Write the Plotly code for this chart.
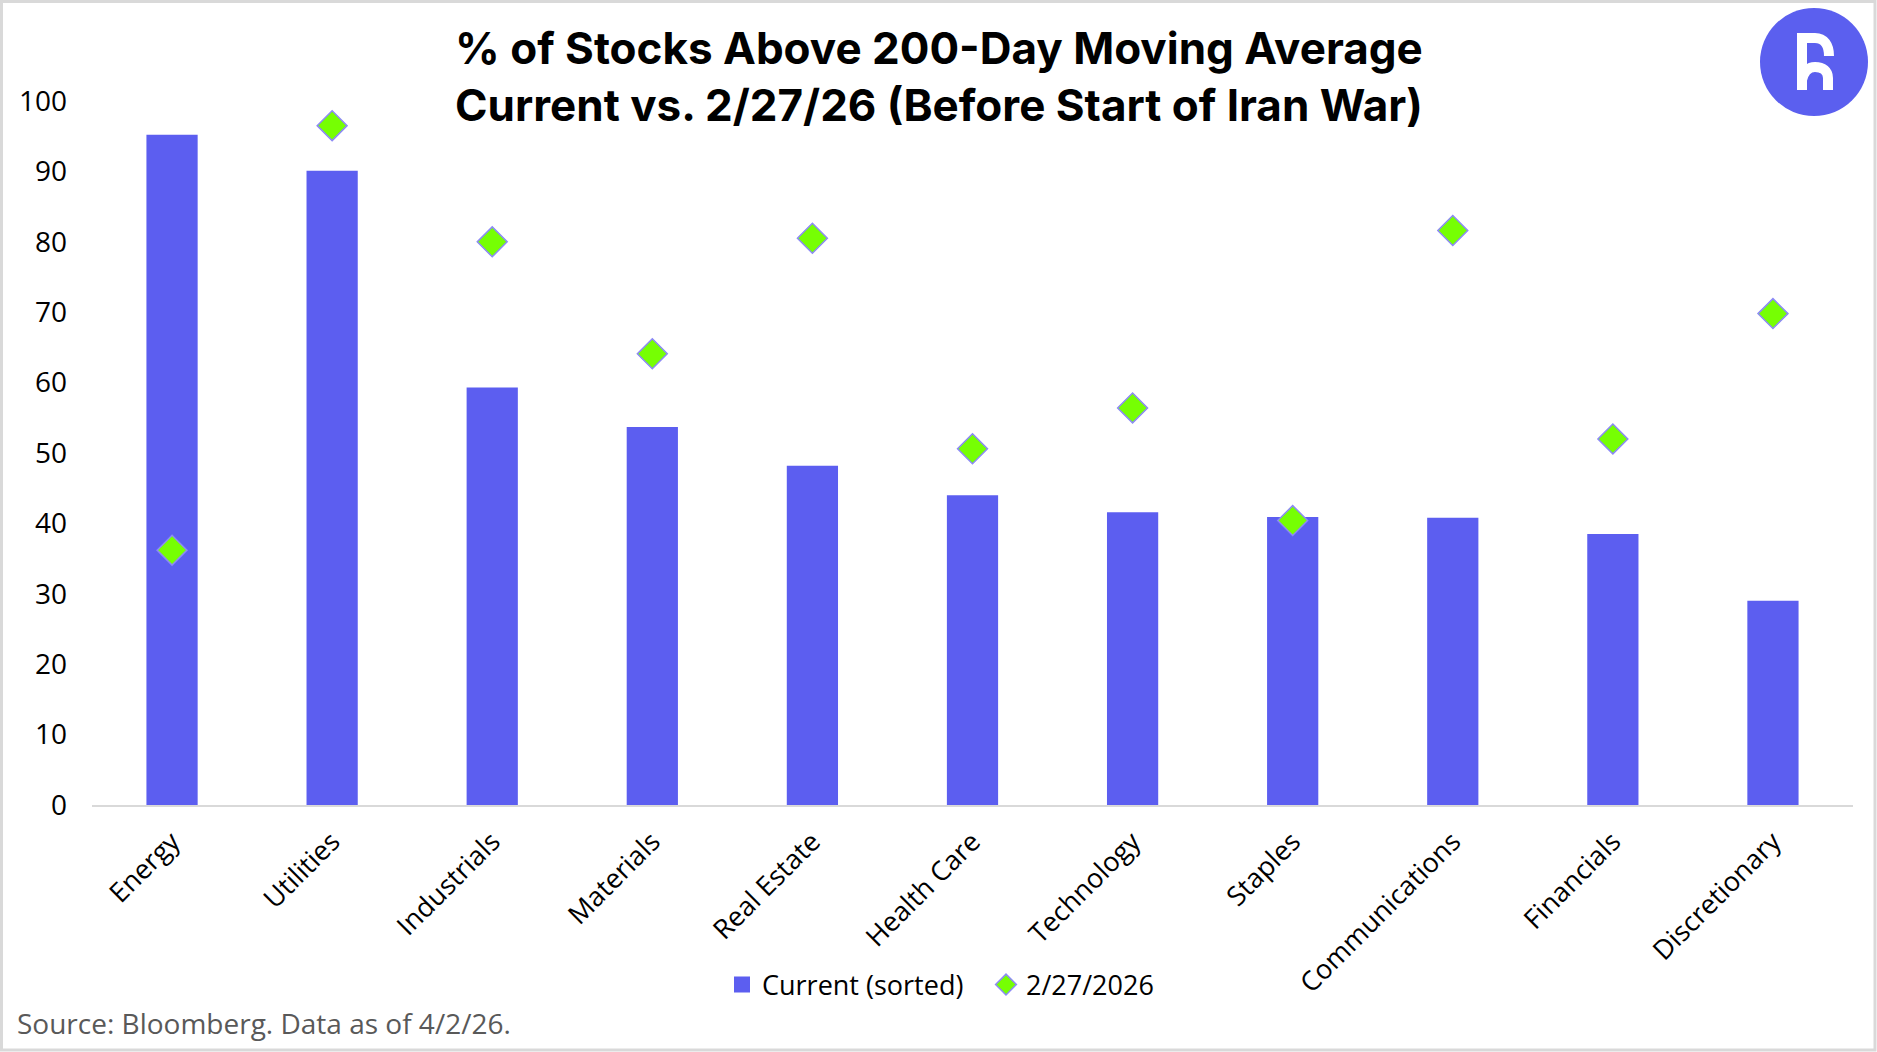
import plotly.graph_objects as go

categories = ["Energy", "Utilities", "Industrials", "Materials", "Real Estate",
              "Health Care", "Technology", "Staples", "Communications",
              "Financials", "Discretionary"]
current_sorted = [95.2, 90.1, 59.3, 53.7, 48.2, 44.0, 41.6, 40.9, 40.8, 38.5, 29.0]
before_war = [36.2, 96.5, 80.0, 64.1, 80.5, 50.6, 56.4, 40.4, 81.6, 52.0, 69.8]
y_ticks = [0, 10, 20, 30, 40, 50, 60, 70, 80, 90, 100]

W, H = 1877, 1052
L, R, T, B = 92, 24, 101, 247
PW = W - L - R
PH = H - T - B


def px(x):
    return (x - L) / PW


def py(y):
    return (H - B - y) / PH


BAR = "#5C5EF0"
LOGO = "#5B5FEF"
TICK_FONT = dict(family="Open Sans", size=27, color="#000000")

fig = go.Figure()
fig.add_trace(go.Bar(
    x=categories, y=current_sorted, name="Current (sorted)",
    marker=dict(color=BAR, line=dict(width=0)), showlegend=False,
))
# legend entry for the bars (larger square symbol)
fig.add_trace(go.Scatter(
    x=[None], y=[None], name="Current (sorted)", mode="markers",
    marker=dict(symbol="square", size=16, color=BAR, line=dict(width=0)),
))
fig.add_trace(go.Scatter(
    x=categories, y=before_war, name="2/27/2026", mode="markers",
    marker=dict(symbol="diamond", size=23, color="#76FF03",
                line=dict(color="#8C8AF5", width=1.5)),
))

shapes = []
# outer frame
shapes.append(dict(type="rect", xref="paper", yref="paper",
                   x0=px(1.5), x1=px(W - 2), y0=py(H - 2), y1=py(1.5),
                   line=dict(color="#D9D9D9", width=3), fillcolor="rgba(0,0,0,0)",
                   layer="above"))
# logo circle
shapes.append(dict(type="circle", xref="paper", yref="paper",
                   x0=px(1760), x1=px(1868), y0=py(116), y1=py(8),
                   fillcolor=LOGO, line=dict(width=0)))


def path(points_cmds):
    out = []
    for cmd, pts in points_cmds:
        s = cmd
        if pts:
            s += " ".join(f"{px(a):.5f},{py(b):.5f}" for a, b in pts)
        out.append(s)
    return " ".join(out)


# stem + top bar
shapes.append(dict(type="rect", xref="paper", yref="paper",
                   x0=px(1797), x1=px(1807), y0=py(90), y1=py(33),
                   fillcolor="#FFFFFF", line=dict(width=0)))
shapes.append(dict(type="rect", xref="paper", yref="paper",
                   x0=px(1797), x1=px(1815), y0=py(43), y1=py(33),
                   fillcolor="#FFFFFF", line=dict(width=0)))
# bowl stroke
bowl = path([
    ("M", [(1812, 38)]), ("L", [(1815, 38)]),
    ("C", [(1824, 38), (1829, 45), (1829, 56)]),
])
shapes.append(dict(type="path", xref="paper", yref="paper", path=bowl,
                   fillcolor="rgba(0,0,0,0)", line=dict(color="#FFFFFF", width=10)))
# h arch stroke
arch = path([
    ("M", [(1802, 80)]),
    ("C", [(1804, 71), (1809, 67), (1815, 67)]),
    ("C", [(1823, 67), (1828, 71), (1828, 78)]),
    ("L", [(1828, 90)]),
])
shapes.append(dict(type="path", xref="paper", yref="paper", path=arch,
                   fillcolor="rgba(0,0,0,0)", line=dict(color="#FFFFFF", width=10)))

fig.update_layout(
    width=W, height=H,
    margin=dict(l=L, r=R, t=T, b=B, autoexpand=False),
    paper_bgcolor="#FFFFFF", plot_bgcolor="#FFFFFF",
    bargap=0.68,
    showlegend=True,
    legend=dict(orientation="h", x=px(722), xanchor="left",
                y=py(985), yanchor="middle",
                font=dict(family="Open Sans", size=27, color="#000000"),
                itemwidth=30, entrywidth=219, entrywidthmode="pixels",
                bgcolor="rgba(0,0,0,0)"),
    shapes=shapes,
    hovermode=False,
    annotations=[
        dict(text="<b>% of Stocks Above 200-Day Moving Average<br>Current vs. 2/27/26 (Before Start of Iran War)</b>",
             xref="paper", yref="paper", x=px(939), y=py(76.5),
             xanchor="center", yanchor="middle", showarrow=False,
             font=dict(family="Inter", size=44, color="#000000")),
        dict(text="Source: Bloomberg. Data as of 4/2/26.",
             xref="paper", yref="paper", x=px(15), y=py(1023),
             xanchor="left", yanchor="middle", showarrow=False,
             font=dict(family="Open Sans", size=28, color="#595959")),
    ],
)
fig.update_xaxes(range=[-0.5, len(categories) - 0.5], showgrid=False,
                 zeroline=False, showline=True,
                 linecolor="#D9D9D9", linewidth=2, ticks="",
                 tickangle=-45, tickfont=TICK_FONT, ticklabelstandoff=8)
fig.update_yaxes(range=[0, 100], tickvals=y_ticks, showgrid=False,
                 zeroline=False, showline=False, ticks="",
                 tickfont=dict(family="Open Sans", size=28, color="#000000"),
                 ticklabelstandoff=24)

fig.write_html("out.html", config={"displayModeBar": False},
               post_script="document.body.style.margin='0';")
